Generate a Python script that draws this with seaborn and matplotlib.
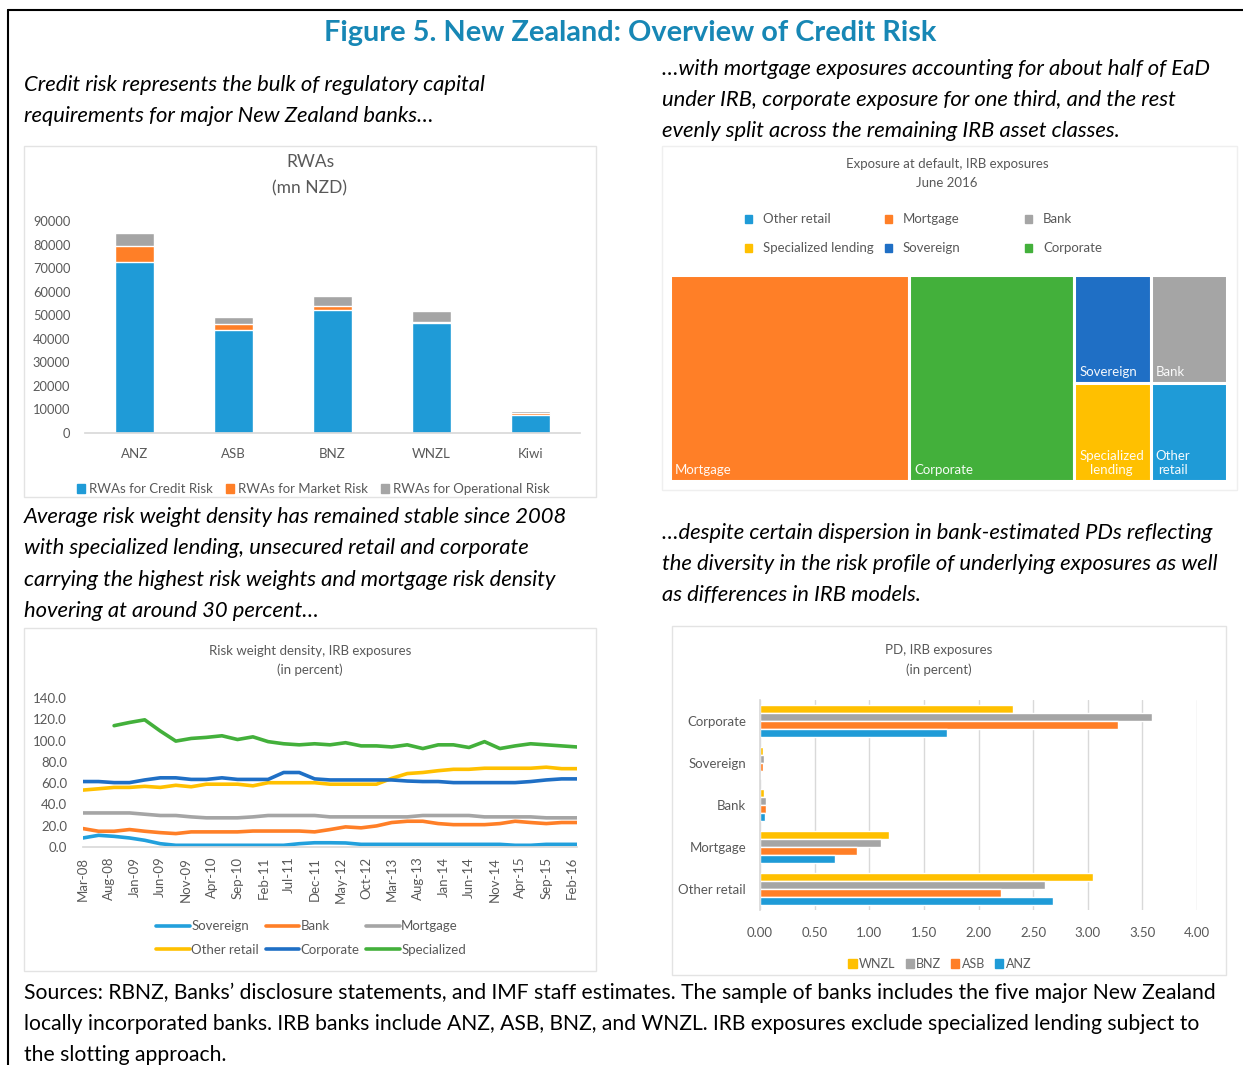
#
# New Zealand: overview of credit risk (four panel figure)
#

import matplotlib
matplotlib.use('Agg')
import matplotlib.pyplot as plt
import matplotlib.dates as mdates
from matplotlib.patches import Rectangle
from matplotlib.lines import Line2D
import seaborn as sns
import pandas as pd
import numpy as np

# ---------------- data ----------------
banks = ['ANZ', 'ASB', 'BNZ', 'WNZL', 'Kiwi']
rwa_credit = [72500, 43800, 52100, 46500, 7500]
rwa_market = [7000, 2300, 1700, 600, 850]
rwa_oper = [5500, 3200, 4400, 4500, 850]

ead_classes = ['Mortgage', 'Corporate', 'Sovereign', 'Bank', 'Specialized lending', 'Other retail']
ead_share = [42.9, 29.7, 7.2, 7.2, 6.5, 6.5]

rw_start = '2008-03-01'  # quarterly observations
rw_sovereign = [8.5, 11, 10, 8.5, 6.3, 3.1, 1.6, 1.6, 1.6, 1.6, 1.6, 1.6, 1.6, 1.6, 3.1, 4, 4,
                3.8, 2.5, 2.5, 2.5, 2.5, 2.5, 2.5, 2.5, 2.5, 2.5, 2.5, 1.6, 1.6, 2.5, 2.5, 2.5]
rw_bank = [17.3, 14.8, 14.8, 16.4, 14.8, 13.5, 12.6, 14.2, 14.2, 14.2, 14.2, 15, 15, 15, 15, 14.2, 16.4,
           18.9, 18, 19.8, 23, 24.2, 24.2, 22, 21, 21, 21, 22, 24.2, 23, 22, 23, 23]
rw_mortgage = [32, 32, 32, 32, 30.8, 29.6, 29.6, 28.3, 27.4, 27.4, 27.4, 28.3, 29.6, 29.6, 29.6, 29.6, 28.3,
               28.3, 28.3, 28.3, 28.3, 28.3, 29.6, 29.6, 29.6, 29.6, 28.3, 28.3, 28.3, 28.3, 27.4, 27.4, 27.4]
rw_other_retail = [53.5, 54.7, 56, 56, 57, 56, 58, 56.6, 59, 59, 59, 57.5, 60.4, 60.4, 60.4, 60.4, 59,
                   59, 59, 59, 64.5, 69, 70, 71.7, 73, 73, 74, 74, 74, 74, 75, 73.6, 73.6]
rw_corporate = [61.5, 61.5, 60.5, 60.5, 63, 65, 65, 63.5, 63.5, 65, 63.5, 63.5, 63.5, 70, 70, 64, 63,
                63, 63, 63, 63, 62, 61.5, 61.5, 60.5, 60.5, 60.5, 60.5, 60.5, 61.5, 63, 64, 64]
rw_specialized = [None, None, 114, 117, 119.5, 109, 99.5, 102, 103, 104.5, 101, 103.5, 99, 97, 96, 97, 96,
                  98, 95, 95, 94, 96, 92.5, 96, 96, 93.5, 99, 92.5, 95, 97, 96, 95, 94]

pd_classes = ['Corporate', 'Sovereign', 'Bank', 'Mortgage', 'Other retail']
pd_banks = ['WNZL', 'BNZ', 'ASB', 'ANZ']
pd_wnzl = [2.32, 0.023, 0.040, 1.185, 3.05]
pd_bnz = [3.59, 0.033, 0.056, 1.11, 2.61]
pd_asb = [3.28, 0.023, 0.059, 0.89, 2.21]
pd_anz = [1.71, 0.013, 0.043, 0.69, 2.68]

# ---------------- style ----------------
BLUE, ORANGE, GRAY = '#1F9BD7', '#FF7F27', '#A5A5A5'
YELLOW, DBLUE, GREEN = '#FFC000', '#1F6FC5', '#43B03B'
TXT = '#595959'
FRAME = '#E3E3E3'

sns.set_theme(style='white')
plt.rcParams['font.family'] = ['Lato', 'DejaVu Sans']

W, H = 1243, 1065
fig = plt.figure(figsize=(W / 100, H / 100), dpi=100)


def add_ax(x0, y0, x1, y1):
    # pixel box (origin top-left) -> figure axes
    return fig.add_axes([x0 / W, 1 - y1 / H, (x1 - x0) / W, (y1 - y0) / H])


def ftext(x, y, s, **kw):
    kw.setdefault('va', 'center')
    return fig.text(x / W, 1 - y / H, s, **kw)


def frame(x0, y0, x1, y1, color=FRAME):
    fig.patches.append(Rectangle((x0 / W, 1 - y1 / H), (x1 - x0) / W, (y1 - y0) / H,
                                 transform=fig.transFigure, fill=False, ec=color, lw=1))


# outer box
fig.add_artist(Line2D([8 / W, 1], [1 - 10 / H, 1 - 10 / H], color='black', lw=1.5, transform=fig.transFigure))
fig.add_artist(Line2D([8 / W, 8 / W], [0, 1 - 10 / H], color='black', lw=1.5, transform=fig.transFigure))

ftext(630, 33, 'Figure 5. New Zealand: Overview of Credit Risk', ha='center', fontsize=20.8,
      fontweight='bold', color='#1787B5')

body = dict(fontsize=15.8, style='italic', color='black', ha='left')
for i, s in enumerate(['Credit risk represents the bulk of regulatory capital',
                       'requirements for major New Zealand banks\u2026']):
    ftext(24, 85 + 31 * i, s, **body)
for i, s in enumerate(['\u2026with mortgage exposures accounting for about half of EaD',
                       'under IRB, corporate exposure for one third, and the rest',
                       'evenly split across the remaining IRB asset classes.']):
    ftext(662, 69 + 31 * i, s, **body)
for i, s in enumerate(['Average risk weight density has remained stable since 2008',
                       'with specialized lending, unsecured retail and corporate',
                       'carrying the highest risk weights and mortgage risk density',
                       'hovering at around 30 percent\u2026']):
    ftext(24, 517 + 31.3 * i, s, **body)
for i, s in enumerate(['\u2026despite certain dispersion in bank-estimated PDs reflecting',
                       'the diversity in the risk profile of underlying exposures as well',
                       'as differences in IRB models.']):
    ftext(662, 533 + 31 * i, s, **body)
for i, s in enumerate(['Sources: RBNZ, Banks\u2019 disclosure statements, and IMF staff estimates. '
                       'The sample of banks includes the five major New Zealand',
                       'locally incorporated banks. IRB banks include ANZ, ASB, BNZ, and WNZL. '
                       'IRB exposures exclude specialized lending subject to',
                       'the slotting approach.']):
    ftext(24, 993 + 31 * i, s, fontsize=15.2, color='black', ha='left')

frame(24, 146, 596, 497)
frame(662, 146, 1237, 490, color='#EFEFEF')
frame(24, 628, 596, 971)
frame(672, 626, 1226, 975)


def clean(ax, keep=('bottom',)):
    for side in ['top', 'right', 'left', 'bottom']:
        ax.spines[side].set_visible(side in keep)
        ax.spines[side].set_color('#D9D9D9')
    ax.tick_params(colors=TXT, labelcolor=TXT)


# ---------------- panel 1: RWAs stacked bars ----------------
rwa = pd.DataFrame({'bank': banks, 'credit': rwa_credit, 'market': rwa_market, 'oper': rwa_oper})
rwa['cm'] = rwa['credit'] + rwa['market']
rwa['total'] = rwa['cm'] + rwa['oper']

ax1 = add_ax(85, 221, 580, 433)
sns.barplot(data=rwa, x='bank', y='total', color=GRAY, width=0.4, saturation=1, ax=ax1, errorbar=None)
sns.barplot(data=rwa, x='bank', y='cm', color=ORANGE, width=0.4, saturation=1, ax=ax1, errorbar=None)
sns.barplot(data=rwa, x='bank', y='credit', color=BLUE, width=0.4, saturation=1, ax=ax1, errorbar=None)
ax1.set_ylim(0, 90000)
ax1.set_yticks(np.arange(0, 90001, 10000))
ax1.set_xlabel('')
ax1.set_ylabel('')
clean(ax1)
ax1.tick_params(axis='y', length=0, pad=10.5, labelsize=9.3)
ax1.tick_params(axis='x', length=0, pad=11, labelsize=9.5)
ftext(310, 162, 'RWAs', ha='center', fontsize=12.5, color=TXT)
ftext(310, 188, '(mn NZD)', ha='center', fontsize=12.5, color=TXT)
h1 = [Rectangle((0, 0), 1, 1, color=c) for c in (BLUE, ORANGE, GRAY)]
ax1.legend(h1, ['RWAs for Credit Risk', 'RWAs for Market Risk', 'RWAs for Operational Risk'],
           loc='center', bbox_to_anchor=(313 / W, 1 - 489 / H), bbox_transform=fig.transFigure,
           ncol=3, frameon=False, fontsize=9.5, handlelength=0.65, handleheight=0.65,
           handletextpad=0.25, columnspacing=1.0, labelcolor=TXT)

# ---------------- panel 2: EaD treemap ----------------
def squarify(values, x, y, w, h):
    """Squarified treemap layout, y grows downward."""
    rects = []
    vals = list(values)

    def worst(row, side):
        s = sum(row)
        return max(max(side ** 2 * v / s ** 2, s ** 2 / (side ** 2 * v)) for v in row)

    while vals:
        side = min(w, h)
        row = [vals[0]]
        i = 1
        while i < len(vals) and worst(row + [vals[i]], side) <= worst(row, side):
            row.append(vals[i])
            i += 1
        s = sum(row)
        if w >= h:
            cw = s / h
            yy = y
            for v in row:
                rects.append((x, yy, cw, v / cw))
                yy += v / cw
            x += cw
            w -= cw
        else:
            rh = s / w
            xx = x
            for v in row:
                rects.append((xx, y, v / rh, rh))
                xx += v / rh
            y += rh
            h -= rh
        vals = vals[i:]
    return rects


ead_colors = {'Mortgage': ORANGE, 'Corporate': GREEN, 'Sovereign': DBLUE, 'Bank': GRAY,
              'Specialized lending': YELLOW, 'Other retail': BLUE}
tx0, ty0, tx1, ty1 = 670, 275, 1227, 481
ax2 = add_ax(tx0, ty0, tx1, ty1)
tw, th = tx1 - tx0, ty1 - ty0
share = np.array(ead_share, dtype=float)
areas = share / share.sum() * tw * th
for name, (rx, ry, rw_, rh_) in zip(ead_classes, squarify(areas, 0, 0, tw, th)):
    ax2.add_patch(Rectangle((rx, ry), rw_, rh_, fc=ead_colors[name], ec='white', lw=2.2))
    label = name if rw_ > 100 else name.replace(' ', '\n')
    ax2.text(rx + 5, ry + rh_ - 5, label, color='white', fontsize=9.5, ha='left', va='bottom',
             multialignment='center', alpha=0.95)
ax2.set_xlim(0, tw)
ax2.set_ylim(th, 0)
ax2.axis('off')
ftext(947, 164, 'Exposure at default, IRB exposures', ha='center', fontsize=9.5, color=TXT)
ftext(947, 183, 'June 2016', ha='center', fontsize=9.5, color=TXT)
legend_order = ['Other retail', 'Mortgage', 'Bank', 'Specialized lending', 'Sovereign', 'Corporate']
for i, name in enumerate(legend_order):
    lx, ly = 748 + 140 * (i % 3), 219 + 29 * (i // 3)
    fig.patches.append(Rectangle(((lx - 3) / W, 1 - (ly + 4) / H), 7 / W, 8 / H,
                                 transform=fig.transFigure, color=ead_colors[name]))
    ftext(lx + 15, ly, name, fontsize=9.5, color=TXT, ha='left')

# ---------------- panel 3: risk weight density lines ----------------
rw_names = ['Sovereign', 'Bank', 'Mortgage', 'Other retail', 'Corporate', 'Specialized']
rw_colors = ['#22A0DC', ORANGE, GRAY, YELLOW, DBLUE, GREEN]
dates = pd.date_range(rw_start, periods=len(rw_sovereign), freq='3MS')
rw_wide = pd.DataFrame({'date': dates, 'Sovereign': rw_sovereign, 'Bank': rw_bank,
                        'Mortgage': rw_mortgage, 'Other retail': rw_other_retail,
                        'Corporate': rw_corporate, 'Specialized': rw_specialized})
rw_long = rw_wide.melt('date', var_name='cls', value_name='rw')
rw_long['rw'] = rw_long['rw'].astype(float)

ax3 = add_ax(83, 698, 577, 847)
sns.lineplot(data=rw_long, x='date', y='rw', hue='cls', hue_order=rw_names,
             palette=rw_colors, linewidth=2.6, ax=ax3)
ax3.set_ylim(0, 140)
ax3.set_yticks(np.arange(0, 141, 20))
ax3.yaxis.set_major_formatter(matplotlib.ticker.FormatStrFormatter('%.1f'))
ax3.set_xlim(dates[0], dates[-1])
ax3.set_xticks(pd.date_range(rw_start, '2016-02-01', freq='5MS'))
ax3.xaxis.set_major_formatter(mdates.DateFormatter('%b-%y'))
ax3.set_xlabel('')
ax3.set_ylabel('')
clean(ax3)
ax3.tick_params(axis='y', length=0, pad=11.5, labelsize=9.5)
ax3.tick_params(axis='x', length=5, color='#D9D9D9', pad=2, labelsize=9.5, rotation=90)
hd, lb = ax3.get_legend_handles_labels()
order = [0, 3, 1, 4, 2, 5]
ax3.legend([hd[i] for i in order], [lb[i] for i in order], loc='center',
           bbox_to_anchor=(311 / W, 1 - 938 / H), bbox_transform=fig.transFigure, ncol=3,
           frameon=False, fontsize=9.5, handlelength=2.55, handletextpad=0.1, columnspacing=0.5,
           labelspacing=0.85, labelcolor=TXT)
ftext(310, 651, 'Risk weight density, IRB exposures', ha='center', fontsize=9.5, color=TXT)
ftext(310, 670, '(in percent)', ha='center', fontsize=9.5, color=TXT)

# ---------------- panel 4: PD horizontal bars ----------------
pd_wide = pd.DataFrame({'cls': pd_classes, 'WNZL': pd_wnzl, 'BNZ': pd_bnz, 'ASB': pd_asb, 'ANZ': pd_anz})
pd_long = pd_wide.melt('cls', var_name='bank', value_name='pd')

ax4 = add_ax(760, 700, 1197, 910)
ax4.grid(axis='x', color='#D9D9D9', lw=1)
ax4.set_axisbelow(True)
sns.barplot(data=pd_long, y='cls', x='pd', hue='bank', order=pd_classes, hue_order=pd_banks,
            palette=[YELLOW, GRAY, ORANGE, BLUE], orient='h', width=0.74, saturation=1,
            errorbar=None, ax=ax4)
ax4.set_xlim(0, 4)
ax4.set_xticks(np.arange(0, 4.01, 0.5))
ax4.xaxis.set_major_formatter(matplotlib.ticker.FormatStrFormatter('%.2f'))
ax4.set_xlabel('')
ax4.set_ylabel('')
clean(ax4, keep=('left',))
ax4.tick_params(axis='y', length=0, pad=10, labelsize=9.5)
ax4.tick_params(axis='x', length=0, pad=12, labelsize=9.5)
h4 = [Rectangle((0, 0), 1, 1, color=c) for c in (YELLOW, GRAY, ORANGE, BLUE)]
ax4.legend(h4, pd_banks, loc='center', bbox_to_anchor=(940 / W, 1 - 964 / H),
           bbox_transform=fig.transFigure, ncol=4, frameon=False, fontsize=9,
           handlelength=0.65, handleheight=0.65, handletextpad=0.2, columnspacing=0.8,
           labelcolor=TXT)
ftext(939, 650, 'PD, IRB exposures', ha='center', fontsize=9.5, color=TXT)
ftext(939, 670, '(in percent)', ha='center', fontsize=9.5, color=TXT)

fig.savefig('out.png', dpi=100)
